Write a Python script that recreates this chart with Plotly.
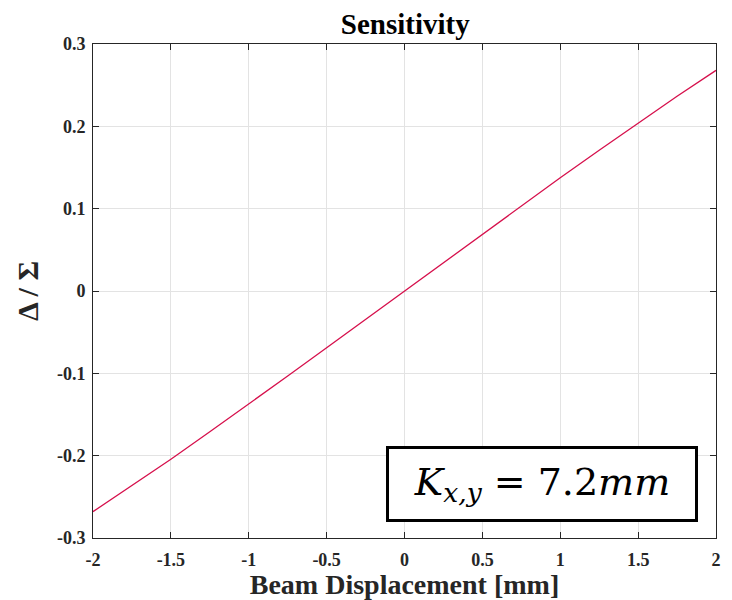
import plotly.graph_objects as go

displacement_mm = [-2.0, -1.75, -1.5, -1.25, -1.0, -0.75, -0.5, -0.25, 0.0,
                   0.25, 0.5, 0.75, 1.0, 1.25, 1.5, 1.75, 2.0]
delta_over_sigma = [-0.268, -0.2365, -0.2043, -0.171, -0.1375, -0.1033, -0.069, -0.0345, 0.0,
                    0.0345, 0.069, 0.1033, 0.1375, 0.171, 0.2043, 0.2365, 0.268]
x_ticks = [-2, -1.5, -1, -0.5, 0, 0.5, 1, 1.5, 2]
y_ticks = [-0.3, -0.2, -0.1, 0, 0.1, 0.2, 0.3]

font_serif = "Liberation Serif, Times New Roman, serif"

fig = go.Figure()
fig.add_trace(go.Scatter(x=displacement_mm, y=delta_over_sigma, mode="lines",
                         line=dict(color="#D6104C", width=1.3), showlegend=False))

axis_common = dict(showline=True, linecolor="#262626", linewidth=1, mirror="ticks",
                   ticks="inside", ticklen=6, tickcolor="#262626", tickwidth=1,
                   showgrid=True, gridcolor="#e3e3e3", gridwidth=1, zeroline=False,
                   automargin=False,
                   tickfont=dict(family=font_serif, size=18, color="#262626", weight="bold"))

fig.update_xaxes(range=[-2, 2], tickvals=x_ticks, ticktext=[f"{v:g}" for v in x_ticks],
                 ticklabelstandoff=5,
                 title=dict(text="<b>Beam Displacement [mm]</b>", font=dict(family=font_serif, size=28, color="#262626"), standoff=5),
                 **axis_common)
fig.update_yaxes(range=[-0.3, 0.3], tickvals=y_ticks, ticktext=[f"{v:g}" for v in y_ticks],
                 ticklabelstandoff=3,
                 title=dict(text="<b>Δ / Σ</b>", font=dict(family=font_serif, size=30, color="#262626"), standoff=9),
                 **axis_common)

fig.add_annotation(xref="paper", yref="paper", x=0.7215, y=0.109, xanchor="center", yanchor="middle",
                   text="<i>K</i><sub><i>x,y</i></sub> = 7.2<i>mm</i>", showarrow=False,
                   font=dict(family="DejaVu Serif, serif", size=38, color="black"),
                   bordercolor="black", borderwidth=3, borderpad=0, bgcolor="white",
                   width=306, height=70)

fig.update_layout(
    width=724, height=592,
    margin=dict(l=85, r=16, t=36, b=62),
    paper_bgcolor="white", plot_bgcolor="white",
    title=dict(text="<b>Sensitivity</b>", x=0.5487, xanchor="center", y=0.974, yanchor="middle",
               font=dict(family=font_serif, size=29, color="black")),
)

fig.write_html("out.html")
